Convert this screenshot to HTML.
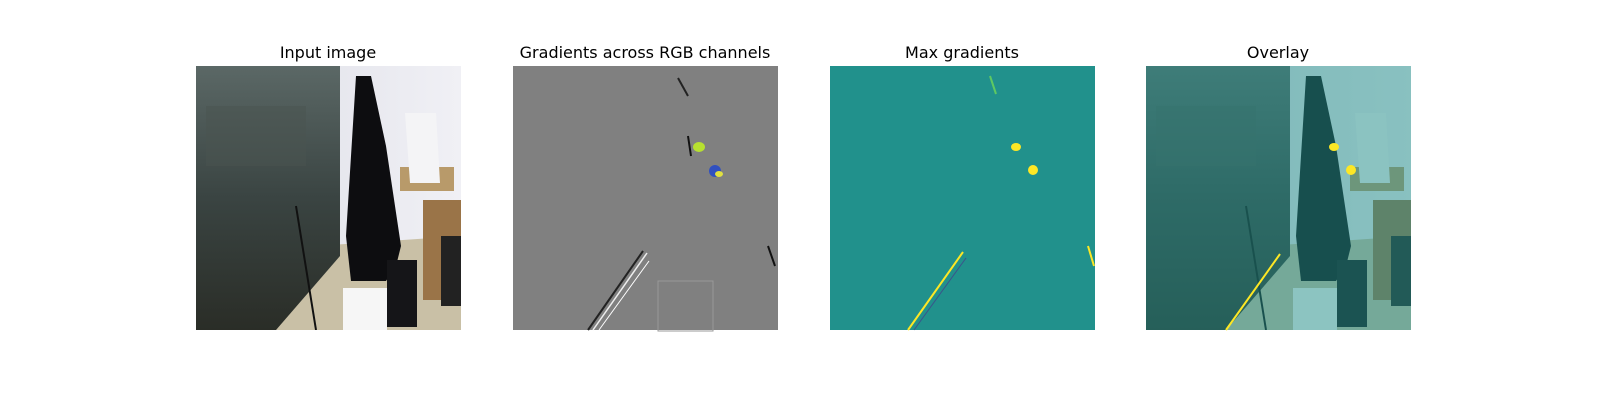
<!DOCTYPE html>
<html><head><meta charset="utf-8">
<style>
body{margin:0;background:#fff;}
svg{display:block;}
text{font-family:"DejaVu Sans","Liberation Sans",sans-serif;font-size:16px;fill:#000;}
</style></head>
<body>
<svg width="1600" height="400" viewBox="0 0 1600 400">
<defs>
<linearGradient id="glass" x1="0" y1="0" x2="0" y2="1">
<stop offset="0" stop-color="#5b6866"/><stop offset="0.5" stop-color="#3a4442"/><stop offset="1" stop-color="#2a2d27"/>
</linearGradient>
<linearGradient id="wall" x1="0" y1="0" x2="1" y2="0">
<stop offset="0" stop-color="#dcdde6"/><stop offset="1" stop-color="#f0f0f5"/>
</linearGradient>
<clipPath id="clip"><rect x="0" y="0" width="265" height="264"/></clipPath>
<g id="photo" clip-path="url(#clip)">
<rect x="0" y="0" width="265" height="264" fill="url(#wall)"/>
<polygon points="120,180 265,170 265,264 70,264" fill="#c9c0a6"/>
<polygon points="0,0 144,0 144,190 80,264 0,264" fill="url(#glass)"/>
<rect x="10" y="40" width="100" height="60" fill="#4a5350" opacity="0.5"/>
<line x1="100" y1="140" x2="120" y2="264" stroke="#111" stroke-width="2"/>
<polygon points="160,10 175,10 190,80 205,180 200,200 190,215 155,215 150,170" fill="#0d0d10"/>
<rect x="204" y="101" width="54" height="24" fill="#b89a6a"/>
<polygon points="209,47 240,47 244,117 214,117" fill="#f4f4f6"/>
<rect x="227" y="134" width="38" height="100" fill="#9a7448"/>
<rect x="191" y="194" width="30" height="67" fill="#151518"/>
<rect x="147" y="222" width="44" height="42" fill="#f6f6f6"/>
<rect x="245" y="170" width="20" height="70" fill="#222"/>
</g>
</defs>

<text x="328" y="58" text-anchor="middle">Input image</text>
<g transform="translate(196,66)"><use href="#photo"/></g>

<text x="645" y="58" text-anchor="middle">Gradients across RGB channels</text>
<g transform="translate(513,66)">
<rect width="265" height="264" fill="#808080"/>
<line x1="75" y1="264" x2="130" y2="185" stroke="#222" stroke-width="2"/>
<line x1="80" y1="264" x2="134" y2="187" stroke="#eee" stroke-width="1.5"/>
<line x1="86" y1="264" x2="136" y2="195" stroke="#fff" stroke-width="1"/>
<ellipse cx="186" cy="81" rx="6" ry="5" fill="#b7e030"/>
<ellipse cx="202" cy="105" rx="6" ry="6" fill="#3050c0"/>
<ellipse cx="206" cy="108" rx="4" ry="3" fill="#e0e040"/>
<line x1="165" y1="12" x2="175" y2="30" stroke="#222" stroke-width="2"/>
<line x1="175" y1="70" x2="178" y2="90" stroke="#111" stroke-width="2"/>
<line x1="255" y1="180" x2="262" y2="200" stroke="#111" stroke-width="2"/>
<rect x="145" y="215" width="55" height="50" fill="none" stroke="#999" stroke-width="1"/>
</g>

<text x="962" y="58" text-anchor="middle">Max gradients</text>
<g transform="translate(830,66)">
<rect width="265" height="264" fill="#21918c"/>
<line x1="78" y1="264" x2="133" y2="186" stroke="#fde725" stroke-width="2"/>
<line x1="84" y1="264" x2="136" y2="192" stroke="#3b528b" stroke-width="1"/>
<ellipse cx="186" cy="81" rx="5" ry="4" fill="#fde725"/>
<ellipse cx="203" cy="104" rx="5" ry="5" fill="#fde725"/>
<line x1="160" y1="10" x2="166" y2="28" stroke="#5ec962" stroke-width="2"/>
<line x1="258" y1="180" x2="264" y2="200" stroke="#fde725" stroke-width="2"/>
</g>

<text x="1278" y="58" text-anchor="middle">Overlay</text>
<g transform="translate(1146,66)">
<use href="#photo"/>
<rect width="265" height="264" fill="#21918c" opacity="0.5"/>
<line x1="80" y1="264" x2="134" y2="188" stroke="#fde725" stroke-width="2"/>
<ellipse cx="188" cy="81" rx="5" ry="4" fill="#fde725"/>
<ellipse cx="205" cy="104" rx="5" ry="5" fill="#fde725"/>
</g>
</svg>
</body></html>
